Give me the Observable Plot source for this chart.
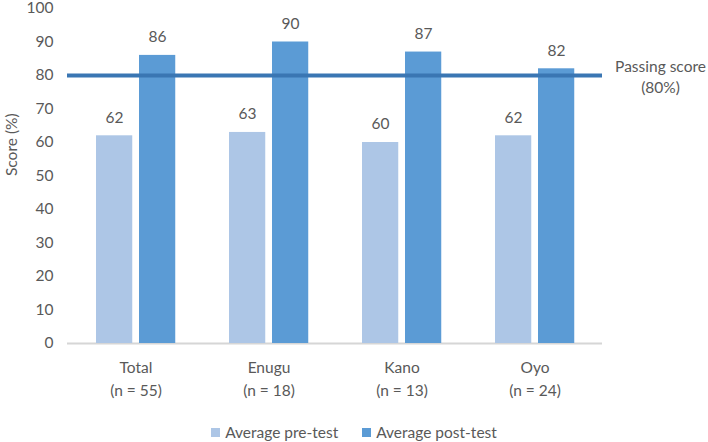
<!DOCTYPE html>
<html>
<head>
<meta charset="utf-8">
<script src="https://cdn.jsdelivr.net/npm/d3@7"></script>
<script src="https://cdn.jsdelivr.net/npm/@observablehq/plot@0.6"></script>
<style>
  html, body { margin: 0; padding: 0; background: #fff; }
  body { width: 708px; height: 442px; position: relative; overflow: hidden; font-family: Lato, "Open Sans", sans-serif; }
  #legend { position: absolute; left: 0; top: 422px; width: 708px; height: 20px; display: flex; justify-content: center; align-items: center; gap: 24px; font-size: 15.5px; color: #595959; }
  .item { display: flex; align-items: center; gap: 5px; }
  .sw { width: 9px; height: 9px; display: inline-block; }
</style>
</head>
<body>
<div id="chart"></div>
<div id="legend"></div>
<script>
const categories = ["Total", "Enugu", "Kano", "Oyo"];
const sampleSizes = [55, 18, 13, 24];
const preTest = [62, 63, 60, 62];
const postTest = [86, 90, 87, 82];
const passingScore = 80;
const seriesNames = ["Average pre-test", "Average post-test"];
const colors = ["#adc6e6", "#5b9bd5"];
const lineColor = "#3a76b3";
const textColor = "#595959";

const data = categories.map((c, i) => ({category: c, n: sampleSizes[i], pre: preTest[i], post: postTest[i]}));
const nBy = new Map(data.map(d => [d.category, d.n]));

const chart = Plot.plot({
  width: 708,
  height: 413,
  marginLeft: 67,
  marginRight: 106,
  marginTop: 8,
  marginBottom: 70,
  style: {fontFamily: "Lato, 'Open Sans', sans-serif", fontSize: "15.5px", color: textColor, background: "white", overflow: "visible"},
  x: {domain: categories, padding: 0, label: null},
  y: {domain: [0, 100], label: null},
  marks: [
    Plot.axisY({ticks: d3.range(0, 101, 10), tickSize: 0, tickPadding: 14, label: null, fontSize: 15.5}),
    Plot.axisX({tickSize: 0, tickPadding: 14, label: null, tickFormat: d => `${d}\n(n = ${nBy.get(d)})`, lineHeight: 1.45, fontSize: 15.5}),
    Plot.text(["Score (%)"], {frameAnchor: "left", y: [50], dx: -55, rotate: -90, text: d => d, fill: textColor, fontSize: 15.5}),
    Plot.ruleY([0], {stroke: "#d6d6d6", strokeWidth: 2}),
    Plot.barY(data, {x: "category", y: "pre", fill: colors[0], insetLeft: 27, insetRight: 69.75}),
    Plot.barY(data, {x: "category", y: "post", fill: colors[1], insetLeft: 70, insetRight: 26.75}),
    Plot.text(data, {x: "category", y: "pre", text: d => String(d.pre), dx: -21.5, dy: -18, fill: textColor, fontSize: 15.5}),
    Plot.text(data, {x: "category", y: "post", text: d => String(d.post), dx: 21.5, dy: -18, fill: textColor, fontSize: 15.5}),
    Plot.ruleY([passingScore], {stroke: lineColor, strokeWidth: 4}),
    Plot.text([passingScore], {y: d => d, text: () => "Passing score\n(80%)", frameAnchor: "right", dx: 58, textAnchor: "middle", lineHeight: 1.35, fill: textColor, fontSize: 15.5})
  ]
});
document.getElementById("chart").appendChild(chart);

const legend = document.getElementById("legend");
seriesNames.forEach((name, i) => {
  const item = document.createElement("div");
  item.className = "item";
  const sw = document.createElement("span");
  sw.className = "sw";
  sw.style.background = colors[i];
  const label = document.createElement("span");
  label.textContent = name;
  item.appendChild(sw);
  item.appendChild(label);
  legend.appendChild(item);
});
</script>
</body>
</html>
